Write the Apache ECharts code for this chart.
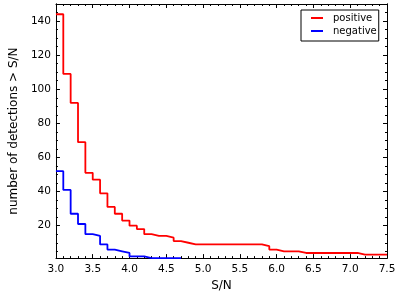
<!DOCTYPE html>
<html>
<head>
<meta charset="utf-8">
<script src="https://cdn.jsdelivr.net/npm/echarts@6/dist/echarts.min.js"></script>
<style>html,body{margin:0;padding:0;background:#fff}#c{width:399px;height:297px}</style>
</head>
<body>
<div id="c"></div>
<script>
// S/N bin starts (step 0.1)
const posBinStart = [3.0,3.1,3.2,3.3,3.4,3.5,3.6,3.7,3.8,3.9,4.0,4.1,4.2,4.3,4.4,4.5,4.6,4.7,4.8,4.9,5.0,5.1,5.2,5.3,5.4,5.5,5.6,5.7,5.8,5.9,6.0,6.1,6.2,6.3,6.4,6.5,6.6,6.7,6.8,6.9,7.0,7.1,7.2,7.3,7.4];
const posCounts   = [144,109,92,69,51,47,39,31,27,23,20,18,15,14,14,13,11,10,9,9,9,9,9,9,9,9,9,9,8,6,5,5,5,4,4,4,4,4,4,4,4,3,3,3,3];
const posEnd = 7.5;
const negBinStart = [3.0,3.1,3.2,3.3,3.4,3.5,3.6,3.7,3.8,3.9,4.0,4.1,4.2,4.3,4.4,4.5,4.6];
const negCounts   = [52,41,27,21,15,14,9,6,5,4,2,2,1,1,1,1,1];
const negEnd = 4.7;
const yMajorTicks = [20,40,60,80,100,120,140];
const yMinorTicks = [5,10,15,25,30,35,45,50,55,65,70,75,85,90,95,105,110,115,125,130,135,145];

function stepData(starts, counts, end) {
  const d = starts.map((x, i) => [x, counts[i]]);
  d.push([end, counts[counts.length - 1]]);
  return d;
}

const FONT = 'DejaVu Sans';
const chart = echarts.init(document.getElementById('c'), null, {renderer: 'canvas'});

function xAx(pos, showLabel) {
  return {
    type: 'value', position: pos, min: 3, max: 7.5, interval: 0.5,
    name: showLabel ? 'S/N' : '', nameLocation: 'middle', nameGap: 19,
    nameTextStyle: {fontFamily: FONT, fontSize: 12, color: '#000'},
    axisLine: {show: true, onZero: false, lineStyle: {color: '#000', width: 1}},
    axisTick: {show: true, inside: true, length: 4, lineStyle: {color: '#000'}},
    minorTick: {show: true, splitNumber: 5, length: 2, lineStyle: {color: '#000'}},
    axisLabel: {show: showLabel, margin: 6, fontFamily: FONT, fontSize: 10.5, color: '#000',
      formatter: v => v.toFixed(1)},
    splitLine: {show: false}
  };
}
function yAx(pos, ticks, len, showLabel, name) {
  return {
    type: 'value', position: pos, min: 1, max: 150,
    name: name || '', nameLocation: 'middle', nameGap: 31,
    nameTextStyle: {fontFamily: FONT, fontSize: 12, color: '#000'},
    axisLine: {show: true, onZero: false, lineStyle: {color: '#000', width: 1}},
    axisTick: {show: true, inside: true, length: len, customValues: ticks, lineStyle: {color: '#000'}},
    axisLabel: {show: showLabel, customValues: ticks, margin: 5, fontFamily: FONT, fontSize: 10.5, color: '#000'},
    splitLine: {show: false}
  };
}

chart.setOption({
  animation: false,
  grid: {left: 44, right: 12, top: 4, bottom: 37},
  xAxis: [xAx('bottom', true), xAx('top', false)],
  yAxis: [
    yAx('left', yMajorTicks, 4, true, 'number of detections > S/N'),
    yAx('left', yMinorTicks, 2, false),
    yAx('right', yMajorTicks, 4, false),
    yAx('right', yMinorTicks, 2, false)
  ],
  legend: {
    orient: 'vertical', left: 301, top: 10,
    padding: [2, 2, 4, 10], itemGap: 1,
    borderColor: '#000', borderWidth: 1, borderRadius: 0,
    itemWidth: 12, itemHeight: 2, icon: 'rect',
    textStyle: {fontFamily: FONT, fontSize: 10, color: '#000', padding: [0, 0, 0, 5], lineHeight: 12},
    data: ['positive', 'negative']
  },
  series: [
    {name: 'positive', type: 'line', step: 'end', showSymbol: false, xAxisIndex: 0, yAxisIndex: 0,
     color: '#ff0000', lineStyle: {color: '#ff0000', width: 1.8},
     data: stepData(posBinStart, posCounts, posEnd)},
    {name: 'negative', type: 'line', step: 'end', showSymbol: false, xAxisIndex: 0, yAxisIndex: 0,
     color: '#0000ff', lineStyle: {color: '#0000ff', width: 1.8},
     data: stepData(negBinStart, negCounts, negEnd)}
  ]
});
</script>
</body>
</html>
